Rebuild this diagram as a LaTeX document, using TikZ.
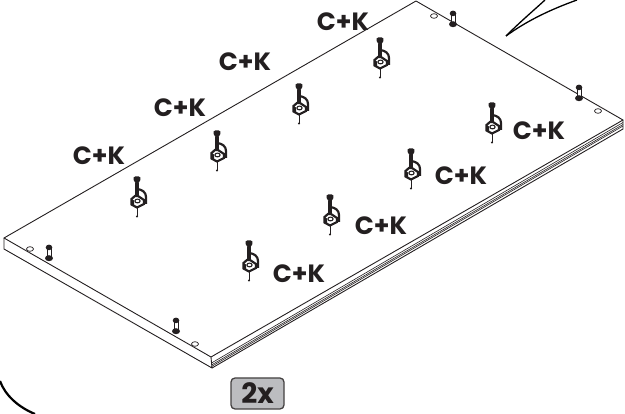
\documentclass[tikz,border=0pt]{standalone}
\usepackage{fontspec}
\usetikzlibrary{calc}
\setmainfont{Poppins}
\definecolor{ink}{HTML}{231F20}
\definecolor{badge}{HTML}{BCBDC0}
\tikzset{
  panel/.style={draw=ink,line width=0.9pt,line join=round},
  groove/.style={draw=ink,line width=0.6pt},
  calloutline/.style={draw=black,line width=1.3pt},
  bigcurve/.style={draw=black,line width=2.2pt},
  hole/.style={draw=ink,line width=0.7pt,fill=white},
  partlabel/.style={font=\fontsize{25}{26}\selectfont\bfseries,text=ink,inner sep=0pt},
  badgebox/.style={draw=ink!85,line width=1.3pt,fill=badge,rounded corners=4pt,minimum width=53pt,minimum height=31pt,inner sep=0pt,font=\fontsize{28}{29}\selectfont\bfseries,text=ink},
  pics/fitting/.style={code={
    \fill[ink] (-3.4,0.5) -- (-1.8,-0.5) -- (1.8,-0.5) -- (3.4,0.5) -- (3.4,3) -- (1.6,6) -- (-1.6,6) -- (-3.4,3) -- cycle;
    \fill[ink] (-1.6,6) rectangle (1.6,18);
    \draw[ink,line width=2.2pt] (0,12) .. controls (5,12.5) and (9,15) .. (9,20) -- (9,27);
    \draw[ink,line width=2.2pt,fill=white] (-5.5,22) -- (-2,19) -- (1,19) -- (7,23) -- (7,27) -- (0,30.5) -- (-5.5,27.5) -- cycle;
    \fill[ink] (-5.5,22) -- (-5.5,27.5) -- (-3,29) -- (-3,23.5) -- cycle;
    \draw[ink,line width=1.1pt] (0.5,24) ellipse (2.6 and 1.9);
    \draw[ink,line width=1pt] (0,30) -- (0,39);
    \fill[ink] (0,39.5) circle (1.2);
  }},
  pics/bolt/.style={code={
    \draw[ink,line width=0.8pt,fill=white] (-1.9,3.5) rectangle (1.9,12);
    \fill[ink] (0,2.4) ellipse (3.3 and 2.8);
    \fill[ink] (0,13.2) ellipse (4 and 3);
  }},
}
\begin{document}
\begin{tikzpicture}[x=1pt,y=-1pt]
\useasboundingbox (0,0) rectangle (625,414);
\coordinate (top) at (416,1);
\coordinate (right) at (623,120);
\coordinate (front) at (211,357);
\coordinate (left) at (4,238);
\coordinate (leftlow) at (4,249);
\coordinate (frontlow) at (212,368);
\coordinate (rightlow) at (623,129);
% board
\draw[panel] (top) -- (right) -- (front) -- (left) -- cycle;
\draw[panel] (left) -- (leftlow) -- (frontlow) -- (front);
\draw[panel] (right) -- (rightlow) -- (frontlow);
\foreach \d in {2,4,5.5}{
  \draw[groove] ($(front)+(0.5,\d+4)$) -- ($(right)+(0,\d+0.5)$);
}
% holes
\foreach \p in {{434,16},{598,111},{30,249},{195,344}}{
  \draw[hole] (\p) ellipse (3.5 and 2.3);
}
% corner bolts
\foreach \p in {{453,11},{579,85},{49,245},{176,318}}{
  \pic at (\p) {bolt};
}
% clamp fittings
\foreach \p in {{137,177},{217,131},{299,84},{380,38},{249,241},{330,195},{411,149},{492,103}}{
  \pic at (\p) {fitting};
}
% labels
\node[partlabel] (l1) at (99,156) {C+K};
\node[partlabel] (l2) at (180,108) {C+K};
\node[partlabel] (l3) at (245,62) {C+K};
\node[partlabel] (l4) at (343,22) {C+K};
\node[partlabel] (l5) at (299,274) {C+K};
\node[partlabel] (l6) at (381,226) {C+K};
\node[partlabel] (l7) at (461,176) {C+K};
\node[partlabel] (l8) at (539,131) {C+K};
% callout tail
\coordinate (tip) at (506,36);
\draw[calloutline] (tip) .. controls (520,22) and (533,11) .. (545,0);
\draw[calloutline] (tip) .. controls (528,20) and (552,9) .. (577,0);
% big outline arc
\draw[bigcurve] (0,381) .. controls (5,395) and (18,407) .. (35,414);
% badge
\node[badgebox] (badge) at (257.5,393.5) {2x};
\end{tikzpicture}
\end{document}
